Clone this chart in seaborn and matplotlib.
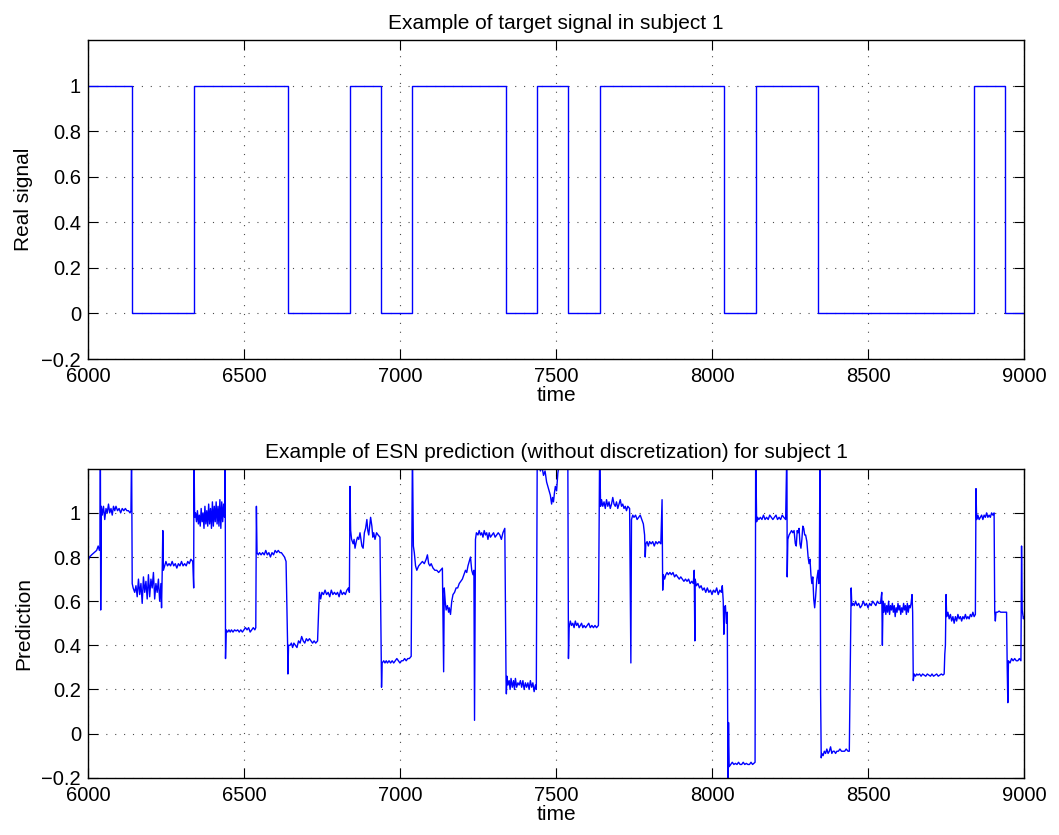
import numpy as np
import pandas as pd
import matplotlib
matplotlib.use("Agg")
import matplotlib.pyplot as plt
from matplotlib.ticker import FuncFormatter
import seaborn as sns

# ---------------- data ----------------
# target signal: level starting at each transition time (step-post)
target_time = [6000, 6140, 6340, 6640, 6840, 6940, 7040, 7340, 7440, 7540,
               7640, 8040, 8140, 8340, 8840, 8940, 9000]
target_value = [1, 0, 1, 0, 1, 0, 1, 0, 1, 0, 1, 0, 1, 0, 1, 0, 0]

# ESN prediction
pred_points = [
    (6000, 0.78), (6005, 0.80), (6012, 0.81), (6020, 0.82), (6028, 0.83), (6033, 0.85), (6037, 0.83), (6039, 0.84),
    (6040, 1.30), (6041, 0.56), (6043, 1.03), (6046, 0.99), (6050, 1.03), (6054, 0.97), (6058, 1.02), (6062, 1.00),
    (6066, 1.04), (6070, 1.00), (6074, 1.02), (6078, 0.99), (6082, 1.03), (6086, 1.01), (6090, 1.03), (6095, 1.01),
    (6100, 1.02), (6105, 1.00), (6110, 1.02), (6115, 1.01), (6120, 1.02), (6125, 1.01), (6130, 1.01), (6135, 1.00),
    (6138, 1.01),
    (6140, 1.30), (6142, 0.68), (6145, 0.66), (6150, 0.64), (6154, 0.67), (6158, 0.62), (6162, 0.70), (6166, 0.63),
    (6170, 0.68), (6174, 0.59), (6178, 0.71), (6182, 0.64), (6186, 0.69), (6190, 0.61), (6194, 0.72), (6198, 0.62),
    (6202, 0.70), (6206, 0.66), (6210, 0.73), (6214, 0.61), (6218, 0.68), (6222, 0.64), (6226, 0.70), (6230, 0.60),
    (6234, 0.68), (6236, 0.57), (6238, 0.72),
    (6240, 0.92), (6242, 0.74), (6246, 0.76), (6250, 0.78), (6255, 0.76), (6260, 0.77), (6265, 0.76), (6270, 0.78),
    (6275, 0.76), (6280, 0.77), (6285, 0.75), (6290, 0.77), (6295, 0.76), (6300, 0.78), (6305, 0.76), (6310, 0.77),
    (6315, 0.76), (6320, 0.78), (6325, 0.77), (6330, 0.79), (6336, 0.78), (6339, 0.66),
    (6340, 1.30), (6342, 0.98), (6345, 1.00), (6348, 0.96), (6351, 1.01), (6354, 0.95), (6357, 0.99), (6360, 0.94),
    (6363, 1.02), (6366, 0.96), (6369, 1.00), (6372, 0.93), (6375, 1.03), (6378, 0.95), (6381, 1.01), (6384, 0.94),
    (6387, 1.04), (6390, 0.95), (6393, 1.02), (6396, 0.93), (6399, 1.05), (6402, 0.94), (6405, 1.03), (6408, 0.96),
    (6411, 1.05), (6414, 0.95), (6417, 1.03), (6420, 0.94), (6423, 1.06), (6426, 0.93), (6429, 1.05), (6432, 0.96),
    (6435, 1.04), (6438, 0.98),
    (6440, 1.30), (6441, 0.34), (6443, 0.47), (6448, 0.46), (6452, 0.47), (6456, 0.46), (6460, 0.47), (6465, 0.46),
    (6470, 0.47), (6475, 0.465), (6480, 0.47), (6485, 0.46), (6490, 0.47), (6495, 0.46), (6500, 0.47), (6505, 0.48),
    (6510, 0.47), (6515, 0.48), (6520, 0.46), (6525, 0.47), (6530, 0.48), (6535, 0.47), (6538, 0.48),
    (6540, 1.03), (6542, 0.82), (6546, 0.81), (6550, 0.82), (6555, 0.81), (6560, 0.82), (6565, 0.81), (6570, 0.83),
    (6575, 0.81), (6580, 0.82), (6585, 0.80), (6590, 0.82), (6595, 0.81), (6600, 0.83), (6605, 0.82), (6610, 0.83),
    (6615, 0.82), (6620, 0.82), (6625, 0.81), (6630, 0.80), (6635, 0.78),
    (6640, 0.40), (6641, 0.27), (6643, 0.40), (6648, 0.40), (6652, 0.41), (6656, 0.39), (6660, 0.41), (6665, 0.40),
    (6670, 0.39), (6675, 0.42), (6680, 0.41), (6685, 0.44), (6690, 0.42), (6695, 0.41), (6700, 0.43), (6705, 0.42),
    (6710, 0.43), (6715, 0.42), (6720, 0.41), (6725, 0.42), (6730, 0.41), (6736, 0.42),
    (6740, 0.58), (6742, 0.64), (6746, 0.61), (6750, 0.64), (6755, 0.63), (6760, 0.65), (6765, 0.63), (6770, 0.64),
    (6775, 0.62), (6780, 0.65), (6785, 0.63), (6790, 0.64), (6795, 0.63), (6800, 0.64), (6805, 0.62), (6810, 0.65),
    (6815, 0.63), (6820, 0.64), (6825, 0.63), (6830, 0.65), (6835, 0.66), (6838, 0.64),
    (6840, 1.12), (6842, 0.92), (6845, 0.88), (6850, 0.86), (6853, 0.88), (6856, 0.84), (6860, 0.87), (6864, 0.89),
    (6868, 0.88), (6872, 0.91), (6875, 0.88), (6878, 0.85), (6882, 0.84), (6886, 0.91), (6890, 0.93), (6894, 0.97),
    (6897, 0.92), (6900, 0.90), (6903, 0.94), (6906, 0.98), (6910, 0.94), (6913, 0.89), (6916, 0.91), (6920, 0.88),
    (6925, 0.91), (6930, 0.90), (6936, 0.89),
    (6940, 0.33), (6941, 0.21), (6943, 0.32), (6948, 0.33), (6952, 0.32), (6956, 0.33), (6960, 0.32), (6965, 0.33),
    (6970, 0.32), (6975, 0.33), (6980, 0.32), (6985, 0.33), (6990, 0.34), (6995, 0.33), (7000, 0.32), (7005, 0.33),
    (7010, 0.33), (7015, 0.34), (7020, 0.33), (7025, 0.34), (7030, 0.34), (7036, 0.35),
    (7040, 1.30), (7043, 0.85), (7046, 0.82), (7050, 0.76), (7054, 0.74), (7060, 0.76), (7066, 0.77), (7072, 0.78),
    (7078, 0.77), (7084, 0.79), (7088, 0.81), (7092, 0.77), (7096, 0.76), (7100, 0.77), (7106, 0.75), (7112, 0.74),
    (7118, 0.74), (7124, 0.73), (7130, 0.74), (7136, 0.75),
    (7140, 0.28), (7142, 0.66), (7145, 0.60), (7148, 0.56), (7152, 0.58), (7156, 0.55), (7158, 0.57), (7162, 0.54),
    (7166, 0.60), (7170, 0.63), (7175, 0.64), (7180, 0.66), (7185, 0.66), (7190, 0.68), (7195, 0.69), (7200, 0.70),
    (7205, 0.72), (7210, 0.74), (7214, 0.73), (7218, 0.76), (7222, 0.78), (7226, 0.80), (7230, 0.74), (7234, 0.72),
    (7237, 0.74),
    (7239, 0.06), (7242, 0.88), (7245, 0.91), (7250, 0.90), (7254, 0.92), (7258, 0.90), (7262, 0.91), (7266, 0.89),
    (7270, 0.92), (7274, 0.90), (7278, 0.91), (7282, 0.88), (7286, 0.91), (7290, 0.89), (7295, 0.90), (7300, 0.91),
    (7305, 0.89), (7310, 0.90), (7315, 0.91), (7320, 0.90), (7325, 0.88), (7330, 0.91), (7336, 0.93),
    (7340, 0.24), (7341, 0.18), (7343, 0.26), (7346, 0.22), (7350, 0.24), (7353, 0.20), (7356, 0.25), (7360, 0.21),
    (7364, 0.24), (7367, 0.20), (7370, 0.25), (7374, 0.21), (7378, 0.23), (7382, 0.22), (7386, 0.24), (7390, 0.21),
    (7394, 0.24), (7398, 0.20), (7402, 0.23), (7406, 0.21), (7410, 0.23), (7414, 0.20), (7418, 0.24), (7422, 0.21),
    (7426, 0.23), (7430, 0.19), (7434, 0.22), (7437, 0.20),
    (7440, 1.30), (7445, 1.22), (7450, 1.19), (7455, 1.21), (7460, 1.17), (7465, 1.19), (7470, 1.14), (7474, 1.12),
    (7478, 1.10), (7482, 1.08), (7486, 1.04), (7489, 1.07), (7492, 1.05), (7495, 1.09), (7498, 1.12), (7502, 1.10),
    (7506, 1.18), (7510, 1.22), (7515, 1.25), (7520, 1.25), (7530, 1.25), (7538, 1.25),
    (7540, 0.34), (7542, 0.48), (7546, 0.51), (7550, 0.49), (7554, 0.50), (7558, 0.48), (7562, 0.51), (7566, 0.49),
    (7570, 0.50), (7574, 0.48), (7578, 0.49), (7582, 0.50), (7586, 0.48), (7590, 0.49), (7595, 0.48), (7600, 0.49),
    (7605, 0.50), (7610, 0.48), (7615, 0.49), (7620, 0.48), (7625, 0.49), (7630, 0.48), (7636, 0.49),
    (7640, 1.30), (7643, 1.03), (7646, 1.06), (7650, 1.03), (7654, 1.05), (7658, 1.02), (7662, 1.06), (7666, 1.03),
    (7670, 1.05), (7674, 1.02), (7678, 1.04), (7682, 1.07), (7686, 1.04), (7690, 1.03), (7694, 1.05), (7698, 1.02),
    (7702, 1.04), (7706, 1.06), (7710, 1.03), (7714, 1.04), (7718, 1.02), (7722, 1.03), (7726, 1.01), (7730, 1.03),
    (7736, 1.02),
    (7740, 0.32), (7742, 0.97), (7746, 0.99), (7750, 0.98), (7755, 0.99), (7760, 0.97), (7765, 0.98), (7770, 0.99),
    (7775, 0.97), (7780, 0.95), (7784, 0.90), (7786, 0.80), (7788, 0.86), (7792, 0.87), (7796, 0.85), (7800, 0.87),
    (7805, 0.86), (7810, 0.87), (7815, 0.85), (7820, 0.87), (7825, 0.86), (7830, 0.87), (7836, 0.86),
    (7840, 1.06), (7842, 0.65), (7844, 0.72), (7848, 0.70), (7852, 0.72), (7856, 0.73), (7860, 0.72), (7865, 0.73),
    (7870, 0.72), (7875, 0.73), (7880, 0.71), (7885, 0.72), (7890, 0.71), (7895, 0.70), (7900, 0.71), (7905, 0.70),
    (7910, 0.69), (7915, 0.70), (7920, 0.69), (7925, 0.70), (7930, 0.68), (7935, 0.69), (7940, 0.68), (7943, 0.74),
    (7945, 0.42), (7946, 0.70), (7950, 0.67), (7955, 0.68), (7960, 0.66), (7965, 0.67), (7970, 0.65), (7975, 0.66),
    (7980, 0.64), (7985, 0.66), (7990, 0.64), (7995, 0.65), (8000, 0.63), (8005, 0.65), (8010, 0.64), (8015, 0.66),
    (8020, 0.63), (8025, 0.65), (8030, 0.64), (8033, 0.67),
    (8036, 0.60), (8038, 0.45), (8040, 0.57), (8043, 0.58), (8046, 0.50), (8049, 0.55),
    (8051, -0.22), (8053, 0.05), (8055, -0.15), (8060, -0.14), (8065, -0.13), (8070, -0.14), (8075, -0.135),
    (8080, -0.14), (8085, -0.13), (8090, -0.14), (8095, -0.14), (8100, -0.13), (8105, -0.14), (8110, -0.135),
    (8115, -0.14), (8120, -0.14), (8125, -0.13), (8130, -0.14), (8138, -0.13),
    (8140, 1.30), (8143, 0.96), (8146, 0.98), (8150, 0.97), (8155, 0.98), (8160, 0.97), (8165, 0.99), (8170, 0.97),
    (8175, 0.98), (8180, 0.97), (8185, 0.99), (8190, 0.98), (8195, 0.97), (8200, 0.98), (8205, 0.99), (8210, 0.97),
    (8215, 0.98), (8220, 0.97), (8225, 0.99), (8230, 0.98), (8236, 0.97),
    (8240, 1.30), (8241, 0.71), (8243, 0.88), (8247, 0.90), (8251, 0.91), (8255, 0.92), (8259, 0.91), (8263, 0.92),
    (8267, 0.86), (8270, 0.85), (8273, 0.92), (8276, 0.91), (8279, 0.93), (8282, 0.86), (8285, 0.84), (8288, 0.88),
    (8291, 0.94), (8294, 0.93), (8297, 0.90), (8300, 0.90), (8304, 0.87), (8308, 0.80), (8311, 0.77), (8314, 0.79),
    (8317, 0.72), (8320, 0.68), (8323, 0.71), (8326, 0.61), (8329, 0.57), (8332, 0.62), (8336, 0.70), (8340, 0.74),
    (8342, 0.68), (8344, 0.74),
    (8346, 1.30), (8348, 0.18), (8350, -0.11), (8352, -0.09), (8356, -0.10), (8360, -0.08), (8364, -0.09),
    (8368, -0.07), (8372, -0.09), (8376, -0.08), (8380, -0.06), (8384, -0.09), (8388, -0.08), (8392, -0.08),
    (8396, -0.09), (8400, -0.08), (8405, -0.08), (8410, -0.07), (8415, -0.08), (8420, -0.08), (8425, -0.08),
    (8430, -0.07), (8436, -0.08), (8440, -0.08),
    (8446, 0.66), (8448, 0.58), (8452, 0.59), (8456, 0.58), (8460, 0.60), (8465, 0.58), (8470, 0.59), (8475, 0.57),
    (8480, 0.58), (8485, 0.60), (8490, 0.58), (8495, 0.59), (8500, 0.57), (8505, 0.59), (8510, 0.58), (8515, 0.60),
    (8520, 0.59), (8525, 0.58), (8530, 0.60), (8535, 0.59), (8540, 0.59), (8544, 0.64), (8546, 0.40), (8548, 0.60),
    (8551, 0.55), (8554, 0.59), (8557, 0.54), (8560, 0.58), (8563, 0.55), (8566, 0.60), (8569, 0.54), (8572, 0.58),
    (8575, 0.56), (8578, 0.59), (8581, 0.55), (8584, 0.58), (8587, 0.53), (8590, 0.57), (8593, 0.55), (8596, 0.59),
    (8599, 0.56), (8602, 0.58), (8605, 0.54), (8608, 0.57), (8611, 0.55), (8614, 0.59), (8617, 0.56), (8620, 0.58),
    (8623, 0.54), (8626, 0.59), (8629, 0.55), (8632, 0.58), (8635, 0.57), (8638, 0.59), (8641, 0.63), (8643, 0.55),
    (8645, 0.24), (8648, 0.27), (8652, 0.26), (8656, 0.27), (8660, 0.265), (8665, 0.27), (8670, 0.26), (8675, 0.27),
    (8680, 0.265), (8685, 0.26), (8690, 0.27), (8695, 0.265), (8700, 0.26), (8705, 0.27), (8710, 0.26),
    (8715, 0.265), (8720, 0.27), (8725, 0.26), (8730, 0.265), (8735, 0.27), (8740, 0.265), (8744, 0.27),
    (8746, 0.36), (8748, 0.40), (8750, 0.63), (8752, 0.53), (8756, 0.55), (8760, 0.52), (8764, 0.54), (8768, 0.51),
    (8772, 0.53), (8776, 0.50), (8780, 0.53), (8784, 0.51), (8788, 0.54), (8792, 0.52), (8796, 0.53), (8800, 0.51),
    (8804, 0.53), (8808, 0.52), (8812, 0.54), (8816, 0.52), (8820, 0.53), (8824, 0.52), (8828, 0.54), (8832, 0.53),
    (8836, 0.55), (8840, 0.53), (8844, 0.54),
    (8846, 1.11), (8848, 0.97), (8852, 0.99), (8856, 0.97), (8860, 0.98), (8864, 0.99), (8868, 0.97), (8872, 0.99),
    (8876, 0.98), (8880, 1.00), (8884, 0.98), (8888, 0.99), (8892, 0.98), (8896, 1.00), (8900, 0.99), (8904, 1.00),
    (8906, 0.55), (8908, 0.51), (8910, 0.55), (8915, 0.55), (8920, 0.555), (8925, 0.55), (8930, 0.55), (8935, 0.55),
    (8940, 0.55), (8944, 0.55), (8946, 0.30), (8948, 0.14), (8950, 0.33), (8955, 0.32), (8960, 0.34), (8965, 0.33),
    (8970, 0.34), (8975, 0.33), (8980, 0.33), (8985, 0.34), (8990, 0.33), (8992, 0.85), (8994, 0.56), (8996, 0.54),
    (8998, 0.52), (9000, 0.53),
]
pred_time = [p[0] for p in pred_points]
pred_value = [p[1] for p in pred_points]

x_ticks = [6000, 6500, 7000, 7500, 8000, 8500, 9000]
y_ticks = [-0.2, 0, 0.2, 0.4, 0.6, 0.8, 1]

titles = ["Example of target signal in subject 1",
          "Example of ESN prediction (without discretization) for subject 1"]
ylabels = ["Real signal", "Prediction"]
xlabel = "time"

# ---------------- style ----------------
sns.set_theme(style="white")
plt.rcParams["font.family"] = ["Liberation Sans", "DejaVu Sans"]
plt.rcParams["axes.unicode_minus"] = True
plt.rcParams["text.color"] = "black"
plt.rcParams["axes.labelcolor"] = "black"
plt.rcParams["xtick.color"] = "black"
plt.rcParams["ytick.color"] = "black"

fig = plt.figure(figsize=(10.59, 8.35), dpi=100)
ax1 = fig.add_axes([0.083, 0.570, 0.884, 0.382])
ax2 = fig.add_axes([0.083, 0.0686, 0.884, 0.370])

line_color = "#0000ff"

df_t = pd.DataFrame({"time": target_time, "value": target_value})
sns.lineplot(data=df_t, x="time", y="value", ax=ax1, estimator=None, sort=False,
             drawstyle="steps-post", color=line_color, linewidth=1.0)

df_p = pd.DataFrame({"time": pred_time, "value": pred_value})
sns.lineplot(data=df_p, x="time", y="value", ax=ax2, estimator=None, sort=False,
             color=line_color, linewidth=1.0)

fmt = FuncFormatter(lambda v, p: ("%g" % round(v, 2)).replace("-", "\u2212"))
for ax, title, ylab in zip([ax1, ax2], titles, ylabels):
    ax.set_xlim(6000, 9000)
    ax.set_ylim(-0.2, 1.2)
    ax.set_xticks(x_ticks)
    ax.set_yticks(y_ticks)
    ax.yaxis.set_major_formatter(fmt)
    ax.xaxis.set_major_formatter(FuncFormatter(lambda v, p: "%d" % v))
    ax.set_title(title, fontsize=15, pad=8, color="black")
    ax.set_ylabel(ylab, fontsize=15, labelpad=6, color="black")
    ax.set_xlabel(xlabel, fontsize=15, labelpad=0, color="black")
    ax.tick_params(axis="both", which="major", direction="in", length=7, width=0.8,
                   labelsize=14.5, top=True, right=True, bottom=True, left=True,
                   color="black", labelcolor="black", pad=5)
    ax.tick_params(axis="x", pad=6)
    ax.grid(True, linestyle=(0, (1, 7)), color="black", linewidth=0.8, alpha=0.7)
    for s in ax.spines.values():
        s.set_visible(True)
        s.set_color("black")
        s.set_linewidth(1.0)

fig.savefig("out.png", dpi=100, facecolor="white")
